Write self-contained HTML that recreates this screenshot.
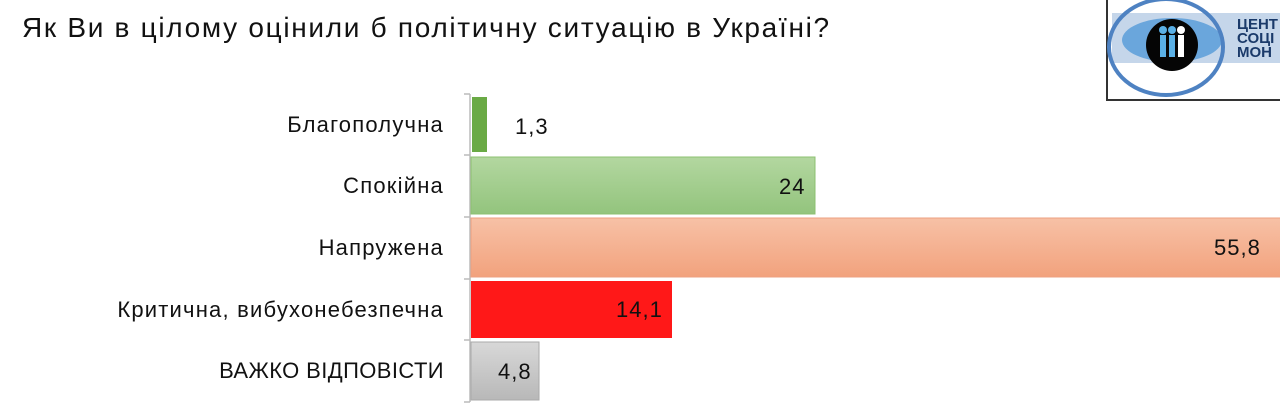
<!DOCTYPE html>
<html><head><meta charset="utf-8"><style>
body{margin:0;width:1280px;height:411px;background:#fff;position:relative;overflow:hidden;font-family:"Liberation Sans","DejaVu Sans",sans-serif}
.t{position:absolute;left:22px;top:12px;font-size:28px;letter-spacing:1.7px;color:#111;white-space:nowrap}
.l{position:absolute;right:836px;font-size:22px;letter-spacing:1.2px;color:#111;text-align:right;white-space:nowrap}
.v{position:absolute;font-size:22px;letter-spacing:1px;color:#111}
</style></head><body>
<div class="t">Як Ви в цілому оцінили б політичну ситуацію в Україні?</div>
<svg width="1280" height="411" style="position:absolute;left:0;top:0">
<defs>
<linearGradient id="g2" x1="0" y1="0" x2="0" y2="1"><stop offset="0" stop-color="#b3d7a0"/><stop offset="1" stop-color="#93c47d"/></linearGradient>
<linearGradient id="g3" x1="0" y1="0" x2="0" y2="1"><stop offset="0" stop-color="#f7c1a6"/><stop offset="1" stop-color="#f2a27d"/></linearGradient>
<linearGradient id="g5" x1="0" y1="0" x2="0" y2="1"><stop offset="0" stop-color="#d8d8d8"/><stop offset="1" stop-color="#b8b8b8"/></linearGradient>
</defs>
<line x1="470" y1="94" x2="470" y2="402" stroke="#bbb" stroke-width="1.5"/>
<g stroke="#bbb" stroke-width="1.5"><line x1="464" y1="94" x2="470" y2="94"/><line x1="464" y1="155" x2="470" y2="155"/><line x1="464" y1="217" x2="470" y2="217"/><line x1="464" y1="279" x2="470" y2="279"/><line x1="464" y1="340" x2="470" y2="340"/><line x1="464" y1="402" x2="470" y2="402"/></g>
<rect x="472" y="97" width="15" height="55" fill="#6aaa45"/>
<rect x="471" y="157" width="344" height="57" fill="url(#g2)" stroke="#8cc070"/>
<rect x="471" y="218" width="812" height="59" fill="url(#g3)" stroke="#eea080"/>
<rect x="471" y="281" width="201" height="57" fill="#ff1818"/>
<rect x="471" y="342" width="68" height="58" fill="url(#g5)" stroke="#aaa"/>
<rect x="1107" y="-2" width="180" height="102" fill="#fff" stroke="#333" stroke-width="2"/>
<rect x="1112" y="13" width="170" height="50" fill="#c5d6ea"/>
<ellipse cx="1172" cy="40" rx="50" ry="22" fill="#6aa6dc"/>
<ellipse cx="1166" cy="47" rx="57" ry="48" fill="none" stroke="#4e82c2" stroke-width="4"/>
<circle cx="1172" cy="45" r="26" fill="#050505"/>
<g fill="#5ab0e6"><rect x="1160" y="35" width="6" height="22"/><rect x="1169" y="35" width="6" height="22"/></g>
<rect x="1178" y="35" width="6" height="22" fill="#fff"/>
<circle cx="1163" cy="30" r="4" fill="#5ab0e6"/><circle cx="1172" cy="30" r="4" fill="#5ab0e6"/><circle cx="1181" cy="30" r="4" fill="#fff"/>
<text x="1237" y="29" font-family="Liberation Sans" font-weight="bold" font-size="15" fill="#1a3a6a">ЦЕНТ</text>
<text x="1237" y="43" font-family="Liberation Sans" font-weight="bold" font-size="15" fill="#1a3a6a">СОЦІ</text>
<text x="1237" y="57" font-family="Liberation Sans" font-weight="bold" font-size="15" fill="#1a3a6a">МОН</text>
</svg>
<div class="l" style="top:112px">Благополучна</div>
<div class="l" style="top:173px">Спокійна</div>
<div class="l" style="top:235px">Напружена</div>
<div class="l" style="top:297px">Критична, вибухонебезпечна</div>
<div class="l" style="top:358px;letter-spacing:0.4px">ВАЖКО ВІДПОВІСТИ</div>
<div class="v" style="left:515px;top:114px">1,3</div>
<div class="v" style="left:779px;top:174px">24</div>
<div class="v" style="left:1214px;top:235px">55,8</div>
<div class="v" style="left:616px;top:297px">14,1</div>
<div class="v" style="left:498px;top:359px">4,8</div>
</body></html>
